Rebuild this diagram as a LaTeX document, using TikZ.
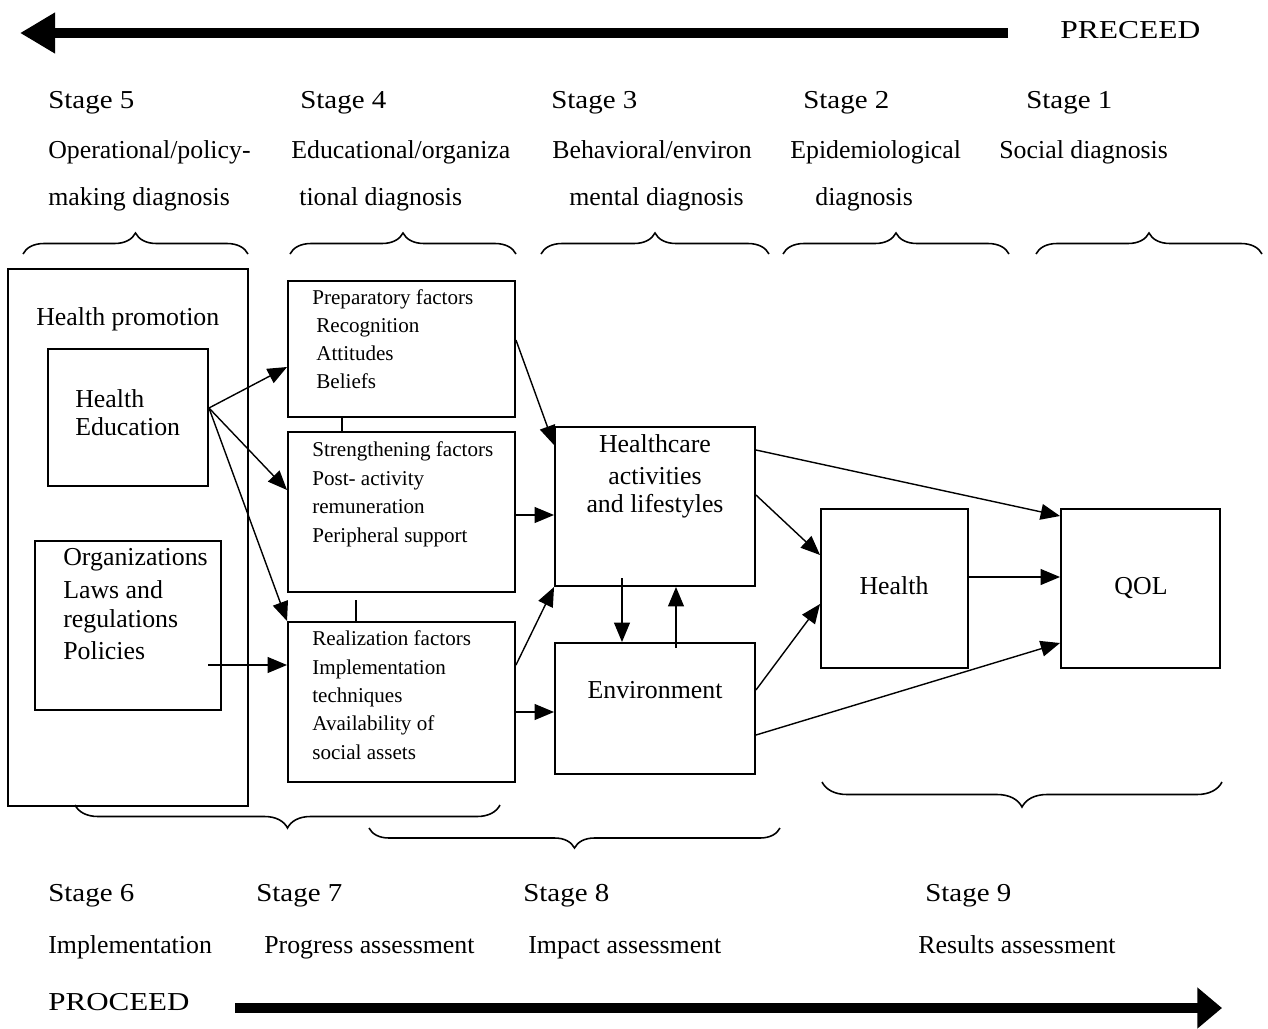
\documentclass[tikz,border=0pt]{standalone}
\usepackage{fontspec}
\setmainfont{Liberation Serif}
\usetikzlibrary{arrows.meta,decorations.pathreplacing,fit,calc}
\begin{document}
\begin{tikzpicture}[x=0.02cm,y=-0.02cm,
  big/.style={font=\fontsize{14.7}{17}\selectfont, anchor=base west, inner sep=0},
  bigc/.style={font=\fontsize{14.7}{17}\selectfont, anchor=base, inner sep=0},
  small/.style={font=\fontsize{12}{14}\selectfont, anchor=base west, inner sep=0},
  box/.style={draw, line width=1.1pt, inner sep=0},
  arr/.style={line width=0.8pt, -{Triangle[length=11pt,width=9pt]}},
  plain/.style={line width=0.8pt},
  brc/.style={decorate, decoration={brace, amplitude=#1}, line width=0.9pt},
  fatarrow/.style={line width=5.8pt}]
\useasboundingbox (0,0) rectangle (1268,1028);

% ---------- top arrow ----------
\coordinate (preS) at (1008,33);
\coordinate (preE) at (20,33);
\draw[fatarrow, -{Triangle[length=20pt,width=22pt]}] (preS) -- (preE);
\node[big] (preceed) at (1060,38.5) {\scalebox{1.22}[1]{PRECEED}};

% ---------- stage texts (top) ----------
\node[big] (s5) at (48,108) {\scalebox{1.12}[1]{Stage 5}};
\node[big] (s4) at (300,108) {\scalebox{1.12}[1]{Stage 4}};
\node[big] (s3) at (551,108) {\scalebox{1.12}[1]{Stage 3}};
\node[big] (s2) at (803,108) {\scalebox{1.12}[1]{Stage 2}};
\node[big] (s1) at (1026,108) {\scalebox{1.12}[1]{Stage 1}};
\node[big] (d5a) at (48,158) {Operational/policy-};
\node[big] (d4a) at (291,158) {Educational/organiza};
\node[big] (d3a) at (552,158) {Behavioral/environ};
\node[big] (d2a) at (790,158) {Epidemiological};
\node[big] (d1a) at (999,158) {Social diagnosis};
\node[big] (d5b) at (48,205) {making diagnosis};
\node[big] (d4b) at (299,205) {tional diagnosis};
\node[big] (d3b) at (569,205) {mental diagnosis};
\node[big] (d2b) at (815,205) {diagnosis};

% ---------- top braces ----------
\draw[brc=0.42cm] (23,254) -- (248,254);
\draw[brc=0.42cm] (290,254) -- (516,254);
\draw[brc=0.42cm] (541,254) -- (769,254);
\draw[brc=0.42cm] (783,254) -- (1009,254);
\draw[brc=0.42cm] (1036,254) -- (1262,254);

% ---------- boxes ----------
\node[box, fit={(8,269) (248,806)}] (hp) {};
\node[box, fit={(48,349) (208,486)}] (he) {};
\node[box, fit={(35,541) (221,710)}] (org) {};
\node[box, fit={(288,281) (515,417)}] (prep) {};
\node[box, fit={(288,432) (515,592)}] (str) {};
\node[box, fit={(288,622) (515,782)}] (real) {};
\node[box, fit={(555,427) (755,586)}] (hc) {};
\node[box, fit={(555,643) (755,774)}] (env) {};
\node[box, fit={(821,509) (968,668)}] (hl) {};
\node[box, fit={(1061,509) (1220,668)}] (qol) {};

% ---------- box texts ----------
\node[big] (hpt) at (36,325) {Health promotion};
\node[big] (het1) at (75,407) {Health};
\node[big] (het2) at (75,435) {Education};
\node[big] (orgt1) at (63,565) {Organizations};
\node[big] (orgt2) at (63,598) {Laws and};
\node[big] (orgt3) at (63,627) {regulations};
\node[big] (orgt4) at (63,659) {Policies};

\node[small] (pt1) at (312,304) {Preparatory factors};
\node[small] (pt2) at (316,332) {Recognition};
\node[small] (pt3) at (316,360) {Attitudes};
\node[small] (pt4) at (316,388) {Beliefs};

\node[small] (st1) at (312,456) {Strengthening factors};
\node[small] (st2) at (312,485) {Post- activity};
\node[small] (st3) at (312,513) {remuneration};
\node[small] (st4) at (312,542) {Peripheral support};

\node[small] (rt1) at (312,645) {Realization factors};
\node[small] (rt2) at (312,674) {Implementation};
\node[small] (rt3) at (312,702) {techniques};
\node[small] (rt4) at (312,730) {Availability of};
\node[small] (rt5) at (312,759) {social assets};

\node[bigc] (hct1) at (655,452) {Healthcare};
\node[bigc] (hct2) at (655,484) {activities};
\node[bigc] (hct3) at (655,512) {and lifestyles};
\node[bigc] (envt) at (655,698) {Environment};
\node[bigc] (hlt) at (894,594) {Health};
\node[bigc] (qolt) at (1141,594) {QOL};

% ---------- connectors ----------
\coordinate (heout) at (he.east |- 0,408);
\draw[arr] (heout) -- (prep.west |- 0,367);
\draw[arr] (heout) -- (str.west |- 0,490);
\draw[arr] (heout) -- (real.north west);
\coordinate (orgout) at (208,665);
\draw[arr] (orgout) -- (real.west |- 0,665);

\draw[plain] (prep.south -| 342,0) -- (str.north -| 342,0);
\coordinate (strlink) at (356,600);
\draw[plain] (strlink) -- (real.north -| 356,0);

\draw[arr] (prep.east |- 0,340) -- (hc.west |- 0,445);
\draw[arr] (str.east |- 0,515) -- (hc.west |- 0,515);
\draw[arr] (real.east |- 0,665) -- (hc.south west);
\draw[arr] (real.east |- 0,712) -- (env.west |- 0,712);

\coordinate (hcdown) at (622,578);
\draw[arr] (hcdown) -- (env.north -| 622,0);
\coordinate (envup) at (676,648);
\draw[arr] (envup) -- (hc.south -| 676,0);

\draw[arr] (hc.east |- 0,450) -- (qol.west |- 0,516);
\draw[arr] (hc.east |- 0,495) -- (hl.west |- 0,555);
\draw[arr] (env.east |- 0,690) -- (hl.west |- 0,604);
\draw[arr] (env.east |- 0,735) -- (qol.west |- 0,643);
\draw[arr] (hl.east |- 0,577) -- (qol.west |- 0,577);

% ---------- bottom braces ----------
\draw[brc=0.46cm] (500,805) -- (75,805);
\draw[brc=0.40cm] (780,828) -- (369,828);
\draw[brc=0.50cm] (1222,782) -- (822,782);

% ---------- stage texts (bottom) ----------
\node[big] (s6) at (48,901) {\scalebox{1.12}[1]{Stage 6}};
\node[big] (s7) at (256,901) {\scalebox{1.12}[1]{Stage 7}};
\node[big] (s8) at (523,901) {\scalebox{1.12}[1]{Stage 8}};
\node[big] (s9) at (925,901) {\scalebox{1.12}[1]{Stage 9}};
\node[big] (a6) at (48,953) {Implementation};
\node[big] (a7) at (264,953) {Progress assessment};
\node[big] (a8) at (528,953) {Impact assessment};
\node[big] (a9) at (918,953) {Results assessment};

% ---------- bottom arrow ----------
\node[big] (proceed) at (48,1010.5) {\scalebox{1.2}[1]{PROCEED}};
\coordinate (proS) at (235,1008);
\coordinate (proE) at (1222,1008);
\draw[fatarrow, -{Triangle[length=14pt,width=22.5pt]}] (proS) -- (proE);
\end{tikzpicture}
\end{document}
